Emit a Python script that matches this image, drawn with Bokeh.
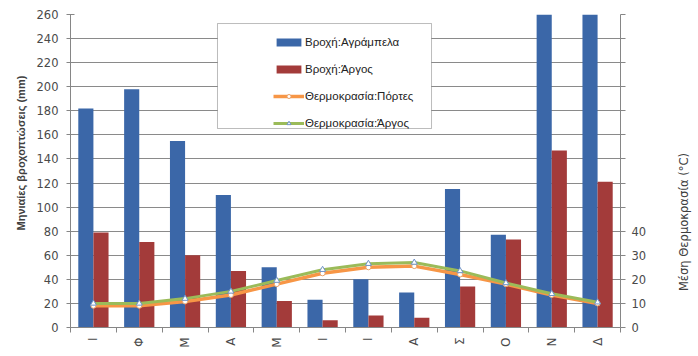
import math
from bokeh.plotting import figure
from bokeh.layouts import row
from bokeh.models import (Range1d, LinearAxis, FixedTicker, Title,
                          Legend, LegendItem, BoxAnnotation, ColumnDataSource)
from bokeh.core.properties import value
from bokeh.transform import dodge
from bokeh.embed import file_html
from bokeh.resources import INLINE

# ---- data ----
months = ["Ι", "Φ", "Μ", "Α", "Μ", "Ι", "Ι", "Α", "Σ", "Ο", "Ν", "Δ"]
rain_agrampela = [182, 198, 155, 110, 50, 23, 40, 29, 115, 77, 300, 290]
rain_argos = [79, 71, 60, 47, 22, 6, 10, 8, 34, 73, 147, 121]
temp_portes = [9, 9, 10.8, 13.5, 18, 22.5, 25, 25.5, 22, 18, 13.5, 10]
temp_argos = [10, 10, 12, 15, 19.5, 24, 26.5, 27, 23.5, 18.5, 14, 10.5]
rain_ticks = list(range(0, 261, 20))
temp_ticks = list(range(0, 131, 10))
temp_labels = {t: (str(t) if t <= 40 else "") for t in temp_ticks}
left_title = "Μηνιαίες βροχοπτώσεις (mm)"
right_title = "Μέση Θερμοκρασία (°C)"

centers = [i + 0.5 for i in range(len(months))]
src = ColumnDataSource(dict(x=centers, ra=rain_agrampela, rb=rain_argos,
                            tp=temp_portes, ta=temp_argos))

p = figure(width=660, height=356, output_backend="svg", toolbar_location=None,
           x_range=Range1d(0, 12), y_range=Range1d(0, 260),
           min_border_left=70, min_border_right=40, min_border_top=14,
           min_border_bottom=29, outline_line_color=None)
p.extra_y_ranges = {"temp": Range1d(0, 130)}

BLUE = "#3B67A8"
RED = "#A33B3A"
ORANGE = "#F79646"
GREEN = "#9BBB59"

b1 = p.vbar(x=dodge("x", -0.165, range=p.x_range), top="ra", width=0.33, source=src,
            fill_color=BLUE, line_color=None)
b2 = p.vbar(x=dodge("x", 0.165, range=p.x_range), top="rb", width=0.33, source=src,
            fill_color=RED, line_color=None)

l1 = p.line("x", "tp", source=src, y_range_name="temp", line_color=ORANGE, line_width=3.5)
m1 = p.scatter("x", "tp", source=src, y_range_name="temp", marker="circle", size=5,
               fill_color="white", line_color="#E9A36B", line_width=1)
l2 = p.line("x", "ta", source=src, y_range_name="temp", line_color=GREEN, line_width=3)
m2 = p.scatter("x", "ta", source=src, y_range_name="temp", marker="triangle", size=6,
               fill_color="white", line_color="#6F93C8", line_width=1)

TICK_COLOR = "#4a4a4a"
AXIS_COLOR = "#868686"

# x axis
xa = p.xaxis[0]
xa.ticker = FixedTicker(ticks=centers, minor_ticks=list(range(0, 13)))
xa.major_label_overrides = {c: m for c, m in zip(centers, months)}
xa.major_tick_out = 0
xa.major_tick_in = 0
xa.minor_tick_out = 5
xa.minor_tick_in = 0
xa.minor_tick_line_color = AXIS_COLOR
xa.axis_line_color = AXIS_COLOR
xa.major_label_orientation = math.pi / 2
xa.major_label_text_font = "DejaVu Sans"
xa.major_label_text_font_size = "12px"
xa.major_label_text_color = TICK_COLOR
xa.major_label_standoff = 5

# left axis
ya = p.yaxis[0]
ya.ticker = FixedTicker(ticks=rain_ticks)
ya.major_tick_in = 4
ya.major_tick_out = 4
ya.minor_tick_line_color = None
ya.axis_line_color = AXIS_COLOR
ya.major_tick_line_color = AXIS_COLOR
ya.major_label_text_font = "DejaVu Sans"
ya.major_label_text_font_size = "11.5px"
ya.major_label_text_color = TICK_COLOR
ya.major_label_standoff = 8

# right axis
ra = LinearAxis(y_range_name="temp", ticker=FixedTicker(ticks=temp_ticks))
ra.major_label_overrides = temp_labels
ra.major_tick_in = 0
ra.major_tick_out = 5
ra.minor_tick_line_color = None
ra.axis_line_color = AXIS_COLOR
ra.major_tick_line_color = AXIS_COLOR
ra.major_label_text_font = "DejaVu Sans"
ra.major_label_text_font_size = "11.5px"
ra.major_label_text_color = TICK_COLOR
ra.major_label_standoff = 6
p.add_layout(ra, "right")

p.xgrid.grid_line_color = None
p.ygrid.grid_line_color = "#8a8a8a"
p.ygrid.grid_line_width = 1

# legend box + legend
box = BoxAnnotation(left=3.207, right=7.877, top=252.5, bottom=165.3,
                    fill_color="white", fill_alpha=1.0, line_color="#222222",
                    line_width=1, level="annotation")
p.add_layout(box)

legend = Legend(items=[
    LegendItem(label="Βροχή:Αγράμπελα", renderers=[b1]),
    LegendItem(label="Βροχή:Άργος", renderers=[b2]),
    LegendItem(label="Θερμοκρασία:Πόρτες", renderers=[l1, m1]),
    LegendItem(label="Θερμοκρασία:Άργος", renderers=[l2, m2]),
], location=(203, 197))
legend.border_line_color = None
legend.background_fill_alpha = 0
legend.padding = 6
legend.spacing = 13
legend.glyph_width = 31
legend.glyph_height = 10
legend.label_height = 14
legend.label_standoff = 1
legend.margin = 0
legend.label_text_font = "Liberation Sans"
legend.label_text_font_size = "11.5px"
legend.label_text_color = "#222222"
p.add_layout(legend)

# left axis title
lt = Title(text=left_title, align="left", offset=97,
           text_font="Liberation Sans", text_font_style="bold",
           text_font_size="11px", text_color="#404040", standoff=14)
p.add_layout(lt, "left")

# right axis title (separate narrow strip so it reads bottom-to-top)
p2 = figure(width=38, height=356, output_backend="svg", toolbar_location=None,
            x_range=Range1d(0, 38), y_range=Range1d(0, 356),
            x_axis_location=None, y_axis_location=None,
            min_border=0, outline_line_color=None)
p2.xgrid.grid_line_color = None
p2.ygrid.grid_line_color = None
p2.text(x=[23], y=[120], text=[right_title], angle=math.pi / 2,
        text_align="center", text_baseline="middle",
        text_font=value("DejaVu Sans"), text_font_size="11.5px",
        text_color="#404040")

layout = row(p, p2, spacing=0)
open("out.html", "w").write(file_html(layout, INLINE))
